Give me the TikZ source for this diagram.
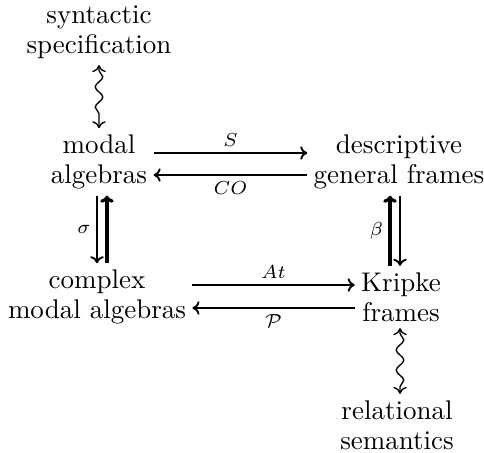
\documentclass[tikz,border=0pt]{standalone}
\usetikzlibrary{decorations.pathmorphing,arrows.meta}
\begin{document}
\begin{tikzpicture}[x=0.37037pt,y=-0.37037pt,
  box/.style={font=\fontsize{10}{11.2}\selectfont, align=center, inner sep=2.2pt},
  lab/.style={font=\scriptsize, inner sep=2pt},
  arr/.style={line width=0.7pt, -{To[length=2.6pt,width=5pt]}},
  arrthick/.style={line width=1.2pt, -{To[length=2.6pt,width=5pt]}},
  squig/.style={line width=0.5pt, {To[length=2.6pt,width=5pt]}-{To[length=2.6pt,width=5pt]}, decorate,
    decoration={snake, amplitude=1.4pt, segment length=7.5pt, pre length=2pt, post length=2pt}}]
\useasboundingbox (0,0) rectangle (484,453);
\node[box] (syn) at (99,32) {syntactic\\specification};
\node[box] (ma) at (99,162) {modal\\algebras};
\node[box] (dg) at (399,162) {descriptive\\general frames};
\node[box] (cm) at (97,297) {complex\\modal algebras};
\node[box] (kf) at (401,297) {Kripke\\frames};
\node[box] (rs) at (397,425) {relational\\semantics};

\draw[arr] (ma.east |- 0,153) -- (dg.west |- 0,153) node[midway,above,lab] {$S$};
\draw[arr] (dg.west |- 0,175) -- (ma.east |- 0,175) node[midway,below,lab] {$CO$};
\draw[arr] (cm.east |- 0,285) -- (kf.west |- 0,285) node[midway,above,lab] {$At$};
\draw[arr] (kf.west |- 0,308) -- (cm.east |- 0,308) node[midway,below,lab] {$\mathcal{P}$};

\draw[arr] (ma.south -| 97,0) -- (cm.north -| 97,0) node[midway,left,lab] {$\sigma$};
\draw[arrthick] (cm.north -| 107,0) -- (ma.south -| 107,0);
\draw[arrthick] (kf.north -| 390,0) -- (dg.south -| 390,0) node[midway,left,lab] {$\beta$};
\draw[arr] (dg.south -| 400,0) -- (kf.north -| 400,0);

\draw[squig] (syn.south) -- (ma.north);
\draw[squig] (kf.south -| 400,0) -- (rs.north -| 400,0);
\end{tikzpicture}
\end{document}
